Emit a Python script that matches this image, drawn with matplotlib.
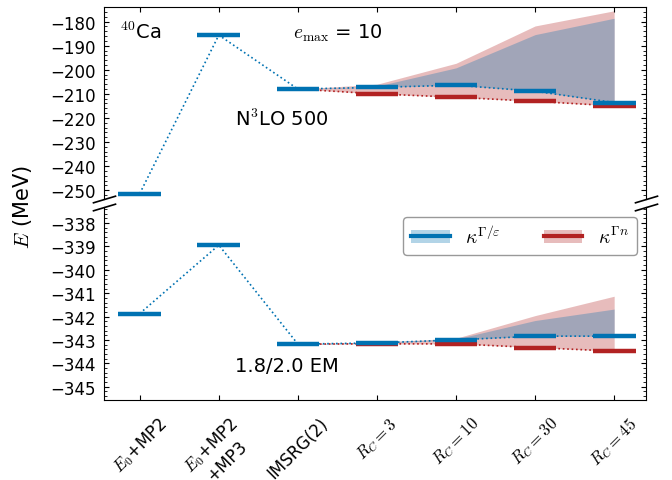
import matplotlib
matplotlib.use("Agg")
import matplotlib.pyplot as plt
import numpy as np
from matplotlib.ticker import MultipleLocator
from matplotlib.patches import Patch
from matplotlib.lines import Line2D

plt.rcParams['mathtext.fontset'] = 'cm'
plt.rcParams['font.size'] = 12

labels = ["$E_0$+MP2", "$E_0$+MP2\n+MP3", "IMSRG(2)",
          "$R_C = 3$", "$R_C = 10$", "$R_C = 30$", "$R_C = 45$"]

# N3LO 500 (top panel)
top_blue = [-251.4, -185.6, -208.0, -207.3, -206.4, -208.9, -213.6]
top_red = [-208.0, -210.0, -211.4, -213.1, -215.0]          # IMSRG(2) .. R_C=45
top_blue_up = [-208.0, -206.8, -199.2, -185.4, -178.6]
top_red_up = [-208.0, -206.0, -197.3, -181.8, -175.5]

# 1.8/2.0 EM (bottom panel)
bot_blue = [-341.87, -338.94, -343.18, -343.13, -343.0, -342.84, -342.84]
bot_red = [-343.18, -343.17, -343.17, -343.33, -343.48]
bot_blue_up = [-343.18, -343.1, -342.96, -342.17, -341.68]
bot_red_up = [-343.18, -343.1, -342.93, -341.96, -341.13]

blue = '#0072B2'
red = '#B22222'
hw = 0.27

fig = plt.figure(figsize=(6.72, 4.81), dpi=100)
ax1 = fig.add_axes([0.155, 0.584, 0.806, 0.399])
ax2 = fig.add_axes([0.155, 0.167, 0.806, 0.401])

x = np.arange(len(labels))
xr = x[2:]


def draw(ax, b, r, bu, ru):
    ax.fill_between(xr, r, ru, color=red, alpha=0.3, lw=0)
    ax.fill_between(xr, b[2:], bu, color=blue, alpha=0.3, lw=0)
    ax.plot(xr, r, ':', color=red, lw=1.2)
    ax.plot(x, b, ':', color=blue, lw=1.2)
    ax.hlines(r[1:], xr[1:] - hw, xr[1:] + hw, color=red, lw=3.2)
    ax.hlines(b, x - hw, x + hw, color=blue, lw=3.2)
    ax.set_xlim(-0.45, 6.4)
    ax.set_xticks(x)
    ax.tick_params(which='both', direction='in', right=True)
    ax.tick_params(axis='y', pad=6)


draw(ax1, top_blue, top_red, top_blue_up, top_red_up)
draw(ax2, bot_blue, bot_red, bot_blue_up, bot_red_up)

ax1.set_ylim(-253.7, -174)
ax1.yaxis.set_major_locator(MultipleLocator(10))
ax1.yaxis.set_minor_locator(MultipleLocator(2))
ax1.spines['bottom'].set_visible(False)
ax1.tick_params(axis='x', top=True, bottom=False, labelbottom=False)

ax2.set_ylim(-345.56, -337.3)
ax2.yaxis.set_major_locator(MultipleLocator(1))
ax2.yaxis.set_minor_locator(MultipleLocator(0.2))
ax2.spines['top'].set_visible(False)
ax2.tick_params(axis='x', top=False, pad=10)
ax2.set_xticklabels(labels, rotation=45, fontsize=12)

# break marks
d = 0.3
kw = dict(marker=[(-1, -d), (1, d)], markersize=17, linestyle='none',
          color='k', mec='k', mew=1.2, clip_on=False)
ax1.plot([0, 1], [0, 0], transform=ax1.transAxes, **kw)
ax2.plot([0, 1], [1, 1], transform=ax2.transAxes, **kw)

ax1.text(0.03, 0.875, r"$^{40}$Ca", transform=ax1.transAxes, fontsize=14,
         va='center')
ax1.text(0.349, 0.87, r"$e_{\rm max}$ = 10", transform=ax1.transAxes,
         fontsize=14, va='center')
ax1.text(0.242, 0.422, r"N$^{\mathsf{3}}$LO 500", transform=ax1.transAxes,
         fontsize=14, va='center')
ax2.text(0.242, 0.175, "1.8/2.0 EM", transform=ax2.transAxes, fontsize=14,
         va='center')

fig.text(0.033, 0.57, r"$E$ (MeV)", rotation=90, fontsize=15,
         ha='center', va='center')

handles = [(Patch(facecolor=blue, alpha=0.3), Line2D([], [], color=blue, lw=3)),
           (Patch(facecolor=red, alpha=0.3), Line2D([], [], color=red, lw=3))]
ax2.legend(handles, [r"$\kappa^{\Gamma/\varepsilon}$", r"$\kappa^{\Gamma n}$"],
           ncol=2, loc='upper right', fontsize=14, edgecolor='grey',
           columnspacing=2.2, borderaxespad=0,
           bbox_to_anchor=(0.983, 0.948))

fig.savefig("out.png", dpi=100)
